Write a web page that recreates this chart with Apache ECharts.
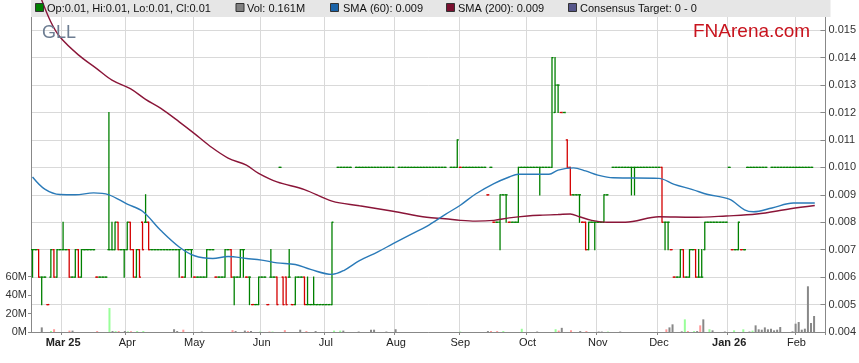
<!DOCTYPE html>
<html><head><meta charset="utf-8">
<script src="https://cdn.jsdelivr.net/npm/echarts@6/dist/echarts.min.js"></script>
<style>html,body{margin:0;padding:0;background:#fff}#c{width:859px;height:363px}</style>
</head><body><div id="c"></div>
<script>
// ---- data ----
const startDate = '2025-02-17';   // first trading day shown (weekdays only)
const totalDays = 260;
const monthLabels = ['Mar 25','Apr','May','Jun','Jul','Aug','Sep','Oct','Nov','Dec','Jan 26','Feb'];
const boldLabels = ['Mar 25','Jan 26'];
// prices in 0.001 AUD (mils); null = no bar
const opens = [
7,7,7,6,6,5,6,7,6,7, 7,7,7,6,6,7,6,7,7,7, 7,6,6,6,6,7,7,7,8,7, 7,7,8,7,6,7,8,8,8,7,
7,7,7,7,7,7,7,7,7,6, 6,7,7,6,6,6,6,6,7,7, 6,6,6,6,7,7,6,6,6,7, 6,6,5,5,5,6,6,5,6,6,
6,10,6,6,6,5,5,6,6,6, 5,5,5,5,5,5,5,5,5,null, 10,10,10,10,10,null,10,10,10,10, 10,10,10,10,10,10,10,10,10,null,
10,10,10,10,10,10,10,10,10,10, 10,10,10,10,10,10,null,10,10,10, 10,10,10,10,10,10,10,10,10,9, 10,8,8,8,9,9,8,8,8,8,
10,10,10,10,10,10,10,10,10,10, 10,12,13,12,12,11,10,9,9,9, 8,8,7,8,8,8,8,8,9,null, 10,10,10,10,10,10,10,10,10,10,
10,10,10,10,10,10,10,8,8,7, 6,6,6,7,6,6,7,7,6,6, 7,8,8,8,8,8,8,8,10,7, 7,7,7,7,10,10,10,10,10,10,
10,null,10,10,10,10,10,10,10,10, 10,10,10,10,10,10];
const highs = [
7,7,7,6,6,5,7,7,7,7, 8,7,7,6,7,7,7,7,7,7, 7,6,6,6,6,12,8,8,8,7, 7,8,8,7,7,7,8,9,8,7,
7,7,7,7,7,7,7,7,7,6, 7,7,7,6,6,6,6,7,7,7, 6,6,6,7,7,7,6,6,7,7, 6,6,5,5,6,6,6,5,7,6,
6,10,6,6,7,5,6,6,6,6, 6,5,6,5,5,5,5,5,8,null, 10,10,10,10,10,null,10,10,10,10, 10,10,10,10,10,10,10,10,10,null,
10,10,10,10,10,10,10,10,10,10, 10,10,10,10,10,10,null,10,10,11, 10,10,10,10,10,10,10,10,10,9, 10,8,8,9,9,9,8,8,8,10,
10,10,10,10,10,10,10,10,10,10, 14,14,13,12,12,11,10,9,9,9, 8,8,8,8,8,8,8,9,9,null, 10,10,10,10,10,10,10,10,10,10,
10,10,10,10,10,10,10,8,8,7, 6,6,7,7,6,7,7,7,7,7, 8,8,8,8,8,8,8,8,10,7, 7,8,7,7,10,10,10,10,10,10,
10,null,10,10,10,10,10,10,10,10, 10,10,10,10,10,10];
const lows = [
6,7,6,5,6,5,6,6,6,7, 7,7,6,6,6,6,6,7,7,7, 7,6,6,6,6,7,7,7,7,7, 6,7,7,6,6,6,7,8,7,7,
7,7,7,7,7,7,7,7,6,6, 6,7,6,6,6,6,6,6,7,7, 6,6,6,6,7,6,5,6,6,6, 6,5,5,5,5,6,6,5,6,6,
5,10,5,5,6,5,5,6,6,5, 5,5,5,5,5,5,5,5,5,null, 10,10,10,10,10,null,10,10,10,10, 10,10,10,10,10,10,10,10,10,null,
10,10,10,10,10,10,10,10,10,10, 10,10,10,10,10,10,null,10,10,10, 10,10,10,10,10,10,10,10,10,9, 10,8,8,7,9,8,8,8,8,8,
10,10,10,10,10,10,9,10,10,10, 10,12,12,12,12,10,9,9,9,8, 8,7,7,8,7,8,8,8,9,null, 10,10,10,10,10,10,9,9,10,10,
10,10,10,10,10,10,8,7,7,7, 6,6,6,6,6,6,7,6,6,6, 7,8,8,8,8,8,8,8,10,7, 7,7,7,7,10,10,10,10,10,10,
10,null,10,10,10,10,10,10,10,10, 10,10,10,10,10,10];
const closes = [
7,7,6,6,6,5,7,6,7,7, 7,7,6,6,7,6,7,7,7,7, 7,6,6,6,6,7,7,8,7,7, 7,8,7,6,7,6,7,8,7,7,
7,7,7,7,7,7,7,7,7,6, 7,7,7,6,6,6,6,7,7,7, 6,6,6,7,7,6,6,6,7,7, 6,6,5,5,6,6,6,5,6,6,
5,10,5,5,6,5,6,6,6,5, 5,5,5,5,5,5,5,5,8,null, 10,10,10,10,10,null,10,10,10,10, 10,10,10,10,10,10,10,10,10,null,
10,10,10,10,10,10,10,10,10,10, 10,10,10,10,10,10,null,10,10,11, 10,10,10,10,10,10,10,10,10,9, 10,8,8,9,9,9,8,8,8,10,
10,10,10,10,10,10,10,10,10,10, 14,13,13,12,12,10,9,9,9,9, 8,7,8,8,8,8,8,9,9,null, 10,10,10,10,10,10,10,10,10,10,
10,10,10,10,10,10,8,8,8,7, 6,6,7,6,6,7,7,6,6,6, 8,8,8,8,8,8,8,8,10,7, 7,8,7,7,10,10,10,10,10,10,
10,null,10,10,10,10,10,10,10,10, 10,10,10,10,10,10];
// volume in millions of shares
const volumes = [
0,0,0,5,0,0,1,3,0,0, 0,0,1.5,1.5,0,0,0,0,0,0, 0,1,0,0,0,26,1,1,1,0, 1,0.7,0.7,0,1,0,1,0,0,0,
0,0,0,0,0,0,3,1,0,2.5, 0,0,0,0,0,0.5,0,0,0,0, 0,0,0,0,0,2,1,0,0,1.5, 1,1,0,0,0.5,0,0,0.5,0.5,0,
0,0,2,0,0,0,0,2.5,0,1, 0,0,1,0,0,0,0,0,1.5,0, 1.5,1.5,0,0,0,0,0.5,0,0,0, 2.5,2.5,0,0,0,0.5,0,0,3,0,
0,0,0,0,0,0,0,0,0,0, 0,0,0,0,0,0,0,0,0,0.5, 0,0,0,0,0,0,0,0,1,1, 0,1,0,1,0,0,0,0,0,3.5,
0,0,0,0,0.5,0,0,0,0,0, 3,1.5,4.5,0,0,2,0,0,1,0, 1,0,0,0,0.5,0.5,0,0.5,0,0, 0,0.5,0,0,0,0,0,0,0,0,
0,0,0,0,0,0,2.9,5,8.3,0, 0,0.7,13.7,1,0,1,1,7.2,13.7,0, 3,1.8,0,0,0,0.5,0,0,1.8,0, 0,2.9,0,0.5,1.5,7.2,2.9,2.5,5,2.9,
3.6,1.8,2.5,5.4,0,0,0,0.7,9,10.8, 2.5,3.6,49.5,9.7,17.3,0];
// moving averages: [bar index, value]
const sma60 = [[0,0.00965],[4,0.00921],[9,0.00901],[14,0.009],[20,0.00907],[25,0.009],[31,0.00866],[36,0.0084],[42,0.0077],[48,0.0071],[53,0.00678],[59,0.00668],[64,0.00675],[70,0.00668],[75,0.00662],[80,0.00652],[86,0.00646],[91,0.00628],[98,0.0061],[102,0.00625],[107,0.0066],[113,0.00692],[118,0.00722],[124,0.00757],[129,0.00785],[135,0.00828],[140,0.00862],[145,0.00903],[151,0.00941],[156,0.00965],[159,0.00975],[169,0.00975],[172,0.0099],[177,0.00998],[181,0.00987],[185,0.00972],[190,0.00962],[205,0.0096],[210,0.00938],[216,0.00919],[221,0.00901],[228,0.00884],[233,0.00845],[236,0.00838],[242,0.00852],[249,0.0087],[256,0.0087]];
const sma200 = [[0,0.0170],[3,0.0161],[6,0.0153],[9,0.01475],[15,0.0141],[21,0.0136],[26,0.01318],[32,0.01287],[37,0.01248],[42,0.01215],[48,0.01166],[53,0.01123],[58,0.01078],[64,0.01034],[70,0.01008],[74,0.00978],[80,0.00947],[89,0.00919],[98,0.00877],[107,0.0086],[118,0.0084],[129,0.00818],[135,0.00813],[140,0.00807],[145,0.00804],[151,0.00807],[156,0.00816],[162,0.00823],[167,0.00826],[172,0.00828],[176,0.0083],[179,0.0082],[183,0.00807],[188,0.008],[194,0.008],[205,0.0082],[216,0.00818],[227,0.00823],[237,0.0083],[248,0.00849],[256,0.00861]];

// ---- build ----
const FONT = 'Liberation Sans, Arial, sans-serif';
const dates = [];
{ let d = new Date(startDate + 'T00:00:00Z');
  while (dates.length < totalDays) {
    const w = d.getUTCDay();
    if (w !== 0 && w !== 6) dates.push(d.toISOString().slice(0,10));
    d.setUTCDate(d.getUTCDate() + 1);
  } }
const monthStart = {};
{ let k = 0;
  for (let i = 1; i < dates.length; i++) {
    if (dates[i].slice(5,7) !== dates[i-1].slice(5,7)) monthStart[i] = monthLabels[k++];
  } }
const isMS = (i) => monthStart[i] !== undefined;

const ohlc = [], vol = [];
let prev = null;
for (let i = 0; i < dates.length; i++) {
  const c = closes[i];
  if (c != null) {
    const o = opens[i];
    let up = c > o ? 1 : (c < o ? 0 : (prev != null && c < prev ? 0 : 1));
    ohlc.push([i, o/1000, highs[i]/1000, lows[i]/1000, c/1000, up]);
  }
  const v = volumes[i] || 0;
  if (v > 0) {
    let col = '#888888';
    if (c != null && prev != null) col = c > prev ? '#99ff99' : (c < prev ? '#ff9999' : '#888888');
    vol.push({value:[i, v], itemStyle:{color:col}});
  }
  if (c != null) prev = c;
}

const legendItems = [
  {x:35.5, tx:47, color:'#008000', text:'Op:0.01, Hi:0.01, Lo:0.01, Cl:0.01'},
  {x:236, tx:247, color:'#808080', text:'Vol: 0.161M'},
  {x:330.5, tx:343, color:'#1a63a8', text:'SMA (60): 0.009'},
  {x:446.5, tx:458, color:'#7a1030', text:'SMA (200): 0.009'},
  {x:568.5, tx:580, color:'#55558a', text:'Consensus Target: 0 - 0'}
];
const graphic = [{type:'rect', z:1, silent:true, shape:{x:31, y:0, width:799.5, height:17}, style:{fill:'#e6e6e6'}}];
legendItems.forEach(it => {
  graphic.push({type:'rect', z:5, shape:{x:it.x, y:3.5, width:8, height:8}, style:{fill:it.color, stroke:'#333', lineWidth:1}});
  graphic.push({type:'text', z:5, style:{x:it.tx, y:8.5, text:it.text, fill:'#111', font:'11px ' + FONT, verticalAlign:'middle'}});
});
graphic.push({type:'text', z:5, style:{x:42, y:24, text:'GLL', fill:'#6d7d92', font:'18px ' + FONT}});
graphic.push({type:'text', z:5, style:{x:693, y:22, text:'FNArena.com', fill:'#c8141e', font:'19px ' + FONT,
  textShadowColor:'rgba(80,60,200,0.55)', textShadowOffsetX:0.6, textShadowOffsetY:0.6, textShadowBlur:0}});

const chart = echarts.init(document.getElementById('c'), null, {renderer:'canvas'});
chart.setOption({
  animation:false,
  textStyle:{fontFamily:FONT},
  graphic: graphic,
  grid:[
    {left:31, right:28, top:0, bottom:31},
    {left:31, right:28, top:276.6, bottom:31}
  ],
  xAxis:[
    {type:'category', gridIndex:0, data:dates, boundaryGap:true,
     axisLine:{lineStyle:{color:'#888'}},
     axisTick:{show:true, interval:isMS, length:3, lineStyle:{color:'#888'}},
     axisLabel:{interval:isMS, fontSize:11, color:'#222', margin:5, fontFamily:FONT,
       formatter:(v, i) => { const l = monthStart[i] || ''; return boldLabels.includes(l) ? '{b|' + l + '}' : l; },
       rich:{b:{fontWeight:'bold', fontSize:11, color:'#222', fontFamily:FONT}}},
     splitLine:{show:true, interval:isMS, lineStyle:{color:'#d9d9d9', width:1}}},
    {type:'category', gridIndex:1, data:dates, boundaryGap:true, show:false}
  ],
  yAxis:[
    {type:'value', gridIndex:0, position:'right', min:0.004, max:0.0161, interval:0.001,
     axisLine:{show:true, lineStyle:{color:'#888'}},
     axisTick:{show:true, inside:true, length:5, lineStyle:{color:'#888'}},
     axisLabel:{fontSize:11, color:'#333', margin:3, fontFamily:FONT,
       formatter:(v) => v > 0.0155 ? '' : v.toFixed(3)},
     splitLine:{show:true, lineStyle:{color:'#d9d9d9'}}},
    {type:'value', gridIndex:1, position:'left', min:0, max:60, interval:20,
     axisLine:{show:true, lineStyle:{color:'#888'}},
     axisTick:{show:true, length:3, lineStyle:{color:'#888'}},
     axisLabel:{fontSize:11, color:'#333', margin:4, fontFamily:FONT, formatter:(v) => v + 'M'},
     splitLine:{show:false}},
    {type:'value', gridIndex:0, position:'left', min:0.004, max:0.0161,
     axisLine:{show:true, lineStyle:{color:'#888'}}, axisTick:{show:false}, axisLabel:{show:false}, splitLine:{show:false}}
  ],
  series:[
    {type:'bar', xAxisIndex:1, yAxisIndex:1, barWidth:2, data:vol, z:2},
    {type:'custom', xAxisIndex:0, yAxisIndex:0, z:3, data:ohlc, encode:{x:0, y:[1,2,3,4]},
     renderItem:(params, api) => {
       const i = api.value(0);
       const pO = api.coord([i, api.value(1)]);
       const pH = api.coord([i, api.value(2)]);
       const pL = api.coord([i, api.value(3)]);
       const pC = api.coord([i, api.value(4)]);
       const w = api.size([1, 0])[0] / 2;
       const col = api.value(5) ? '#008000' : '#d40000';
       const x = pO[0];
       const st = {stroke:col, lineWidth:1.3};
       return {type:'group', children:[
         {type:'line', shape:{x1:x, y1:pH[1] - 0.6, x2:x, y2:pL[1] + 0.6}, style:st},
         {type:'line', shape:{x1:x - w, y1:pO[1], x2:x, y2:pO[1]}, style:st},
         {type:'line', shape:{x1:x, y1:pC[1], x2:x + w, y2:pC[1]}, style:st}
       ]};
     }},
    {type:'line', xAxisIndex:0, yAxisIndex:0, data:sma200, smooth:0.35, showSymbol:false, z:4,
     lineStyle:{color:'#8a1538', width:1.4}},
    {type:'line', xAxisIndex:0, yAxisIndex:0, data:sma60, smooth:0.35, showSymbol:false, z:4,
     lineStyle:{color:'#2a7ab8', width:1.4}}
  ]
});
</script></body></html>
